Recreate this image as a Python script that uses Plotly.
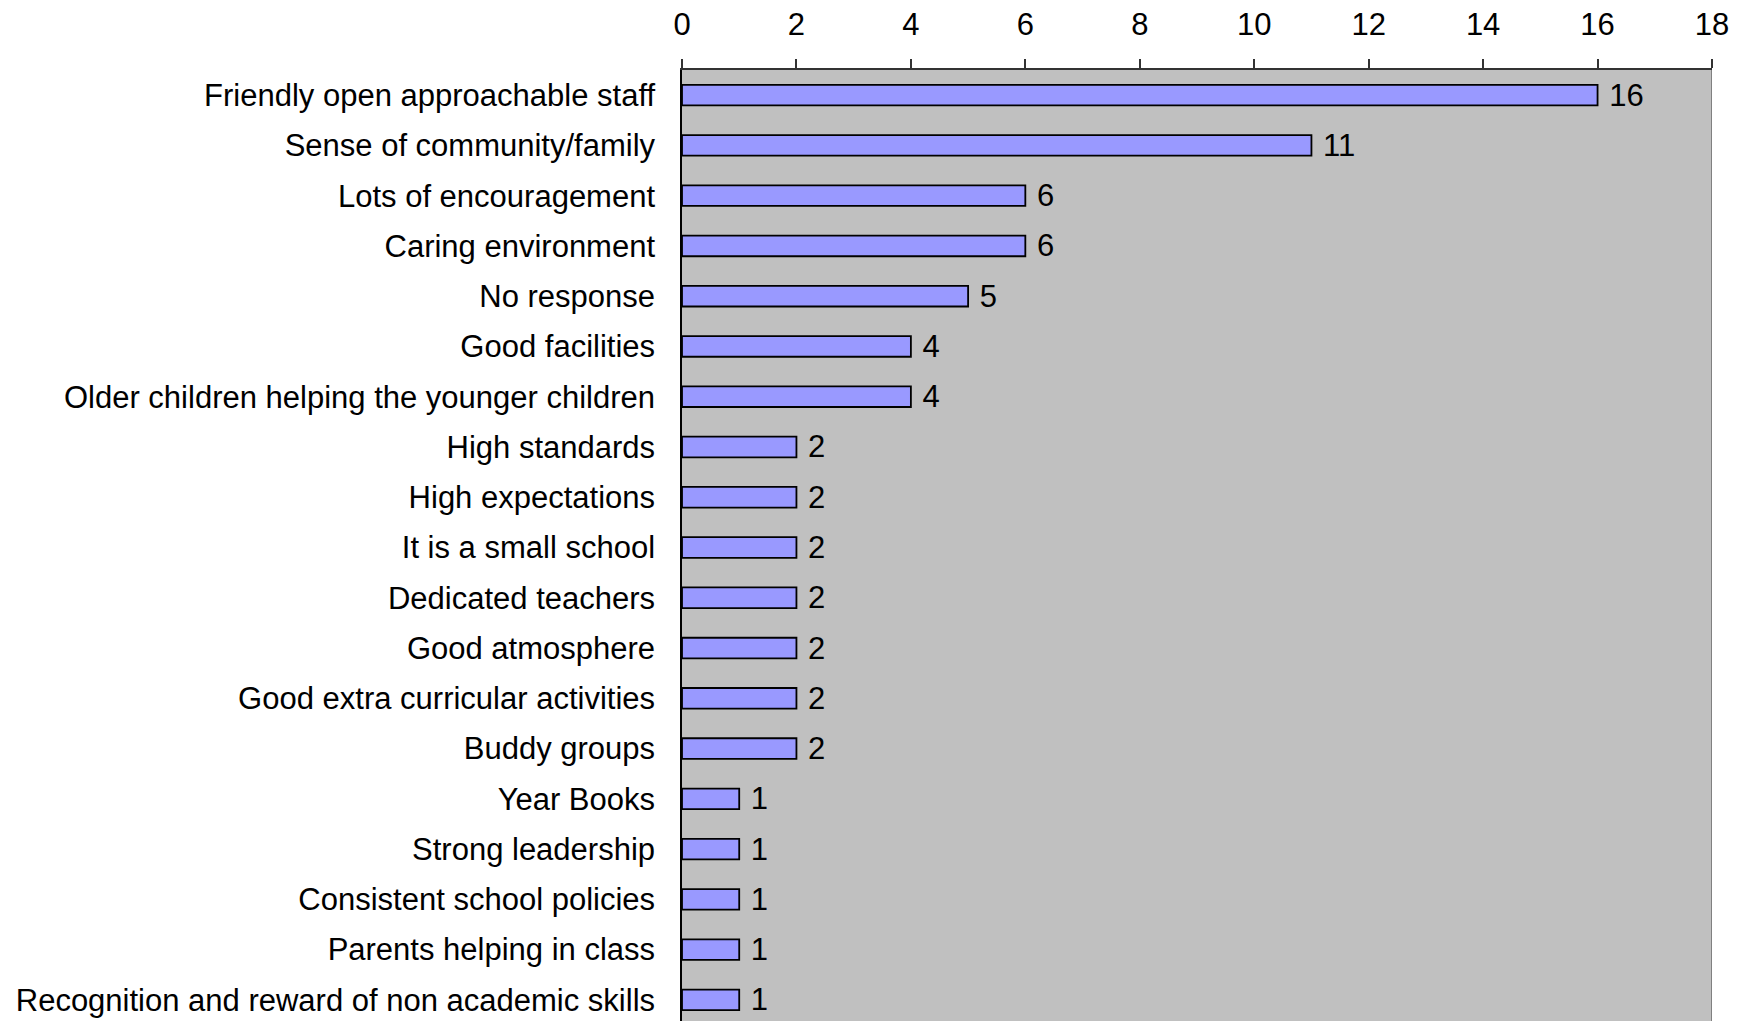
import plotly.graph_objects as go

categories = [
    "Friendly open approachable staff",
    "Sense of community/family",
    "Lots of encouragement",
    "Caring environment",
    "No response",
    "Good facilities",
    "Older children helping the younger children",
    "High standards",
    "High expectations",
    "It is a small school",
    "Dedicated teachers",
    "Good atmosphere",
    "Good extra curricular activities",
    "Buddy groups",
    "Year Books",
    "Strong leadership",
    "Consistent school policies",
    "Parents helping in class",
    "Recognition and reward of non academic skills",
]
counts = [16, 11, 6, 6, 5, 4, 4, 2, 2, 2, 2, 2, 2, 2, 1, 1, 1, 1, 1]

font_family = "Liberation Sans, Arial, sans-serif"
fsize = 31

fig = go.Figure(go.Bar(
    x=counts,
    y=categories,
    orientation="h",
    width=0.41,
    marker=dict(color="#9999FF", line=dict(color="black", width=1.8)),
    text=[" " + str(c) for c in counts],
    textposition="outside",
    constraintext="none",
    textfont=dict(size=fsize, color="black", family=font_family),
    cliponaxis=False,
))

# page body has an 8px margin, so the figure is sized and offset to fit the window
fig.update_layout(
    width=1739,
    height=1013,
    margin=dict(l=674, r=35, t=62, b=0),
    paper_bgcolor="white",
    plot_bgcolor="#C0C0C0",
    font=dict(family=font_family, size=fsize, color="black"),
    showlegend=False,
    shapes=[dict(type="line", xref="x", yref="paper", x0=18, x1=18, y0=0, y1=1,
                 line=dict(color="#808080", width=2))],
)

fig.update_xaxes(
    side="top",
    range=[0, 18],
    dtick=2,
    showgrid=False,
    zeroline=False,
    showline=True,
    linecolor="#333333",
    linewidth=1.5,
    ticks="outside",
    ticklen=9,
    tickcolor="#333333",
    tickwidth=1.5,
    ticklabelstandoff=12,
    tickfont=dict(size=fsize),
)

fig.update_yaxes(
    type="category",
    range=[18.42, -0.5],
    showgrid=False,
    zeroline=False,
    showline=True,
    linecolor="black",
    linewidth=1.5,
    ticks="",
    ticklabelstandoff=19,
    tickfont=dict(size=fsize),
)

fig.write_html("out.html")
